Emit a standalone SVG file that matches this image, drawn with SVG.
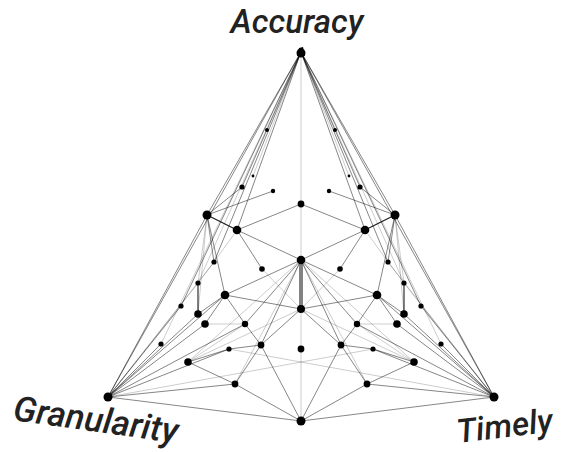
<svg xmlns="http://www.w3.org/2000/svg" xmlns:xlink="http://www.w3.org/1999/xlink" width="576" height="452" viewBox="0 0 576 452">
<style>
.e{stroke:#000;stroke-width:0.6;stroke-opacity:0.8;fill:none}
.f{stroke:#000;stroke-width:0.5;stroke-opacity:0.4;fill:none}
.k{stroke:#000;stroke-width:1.1;stroke-opacity:0.9;fill:none}
.n{fill:#000}
.lbl{font-family:Roboto,"Liberation Sans",sans-serif;font-style:italic;font-weight:500;font-size:33px;fill:#222}
</style>
<rect width="576" height="452" fill="#fff"/>
<g id="connectors">
<g id="left-edges">
<line class="e" x1="301" y1="52" x2="108" y2="397"/>
<line class="e" x1="108" y1="397" x2="301" y2="421"/>
<line class="e" x1="301" y1="52" x2="207" y2="215"/>
<line class="e" x1="301" y1="52" x2="214" y2="262"/>
<line class="f" x1="301" y1="52" x2="253" y2="176"/>
<line class="e" x1="301" y1="52" x2="242" y2="187"/>
<line class="e" x1="301" y1="52" x2="181" y2="306"/>
<line class="f" x1="301" y1="52" x2="161" y2="344"/>
<line class="e" x1="301" y1="52" x2="237" y2="230"/>
<line class="f" x1="301" y1="52" x2="198" y2="283"/>
<line class="e" x1="108" y1="397" x2="207" y2="215"/>
<line class="e" x1="108" y1="397" x2="161" y2="344"/>
<line class="e" x1="108" y1="397" x2="181" y2="306"/>
<line class="e" x1="108" y1="397" x2="198" y2="314"/>
<line class="e" x1="108" y1="397" x2="205" y2="324"/>
<line class="e" x1="108" y1="397" x2="225" y2="295"/>
<line class="e" x1="108" y1="397" x2="229" y2="349"/>
<line class="e" x1="108" y1="397" x2="235" y2="384"/>
<line class="f" x1="108" y1="397" x2="198" y2="283"/>
<line class="f" x1="108" y1="397" x2="214" y2="262"/>
<line class="f" x1="108" y1="397" x2="373" y2="349"/>
<line class="e" x1="108" y1="397" x2="245" y2="324"/>
<line class="k" x1="207" y1="215" x2="237" y2="230"/>
<line class="e" x1="207" y1="215" x2="242" y2="187"/>
<line class="e" x1="207" y1="215" x2="273" y2="191"/>
<line class="e" x1="207" y1="215" x2="214" y2="262"/>
<line class="e" x1="207" y1="215" x2="225" y2="295"/>
<line class="f" x1="207" y1="215" x2="198" y2="283"/>
<line class="f" x1="207" y1="215" x2="198" y2="314"/>
<line class="e" x1="237" y1="230" x2="301" y2="204"/>
<line class="e" x1="237" y1="230" x2="301" y2="260"/>
<line class="e" x1="237" y1="230" x2="262" y2="269"/>
<line class="f" x1="237" y1="230" x2="214" y2="262"/>
<line class="e" x1="301" y1="260" x2="225" y2="295"/>
<line class="e" x1="301" y1="260" x2="245" y2="324"/>
<line class="e" x1="301" y1="260" x2="261" y2="345"/>
<line class="f" x1="301" y1="260" x2="235" y2="384"/>
<line class="e" x1="225" y1="295" x2="301" y2="309"/>
<line class="e" x1="225" y1="295" x2="245" y2="324"/>
<line class="e" x1="225" y1="295" x2="198" y2="314"/>
<line class="e" x1="225" y1="295" x2="205" y2="324"/>
<line class="k" x1="198" y1="283" x2="198" y2="314"/>
<line class="f" x1="198" y1="283" x2="214" y2="262"/>
<line class="e" x1="245" y1="324" x2="261" y2="345"/>
<line class="e" x1="261" y1="345" x2="301" y2="309"/>
<line class="e" x1="261" y1="345" x2="229" y2="349"/>
<line class="e" x1="261" y1="345" x2="301" y2="421"/>
<line class="e" x1="261" y1="345" x2="235" y2="384"/>
<line class="e" x1="229" y1="349" x2="188" y2="362"/>
<line class="e" x1="188" y1="362" x2="235" y2="384"/>
<line class="e" x1="235" y1="384" x2="301" y2="421"/>
<line class="f" x1="262" y1="269" x2="301" y2="309"/>
<line class="f" x1="188" y1="362" x2="245" y2="324"/>
<line class="f" x1="205" y1="324" x2="245" y2="324"/>
<line class="f" x1="301" y1="309" x2="188" y2="362"/>
<line class="f" x1="301" y1="260" x2="414" y2="362"/>
</g>
<use xlink:href="#left-edges" transform="translate(602,0) scale(-1,1)"/>
<line class="f" x1="301" y1="52" x2="301" y2="204"/>
<line class="f" x1="301" y1="204" x2="301" y2="260"/>
<line class="k" x1="300" y1="260" x2="300" y2="309"/>
<line class="k" x1="302" y1="260" x2="302" y2="309"/>
<line class="f" x1="301" y1="309" x2="301" y2="349"/>
<line class="f" x1="301" y1="349" x2="301" y2="421"/>
</g>
<g id="node-accuracy"><circle class="n" cx="301" cy="53" r="4.5"/><path class="n" d="M297 56 L299 48 L303 47 L305 56 Z"/></g>
<g id="node-granularity"><circle class="n" cx="108" cy="397" r="4.5"/></g>
<g id="node-timely"><circle class="n" cx="494" cy="397" r="4.5"/></g>
<g id="node-bottom"><circle class="n" cx="301" cy="421" r="4.5"/></g>
<g id="node-L"><circle class="n" cx="207" cy="215" r="4.5"/></g>
<g id="node-R"><circle class="n" cx="395" cy="215" r="4.5"/></g>
<g id="node-a1"><circle class="n" cx="267" cy="130" r="2"/></g>
<g id="node-a2"><circle class="n" cx="335" cy="130" r="2"/></g>
<g id="node-a3"><circle class="n" cx="253" cy="176" r="1.4"/></g>
<g id="node-a4"><circle class="n" cx="349" cy="176" r="1.4"/></g>
<g id="node-a5"><circle class="n" cx="242" cy="187" r="2.6"/></g>
<g id="node-a6"><circle class="n" cx="360" cy="187" r="2.6"/></g>
<g id="node-a7"><circle class="n" cx="273" cy="191" r="2.2"/></g>
<g id="node-a8"><circle class="n" cx="329" cy="191" r="2.2"/></g>
<g id="node-N0"><circle class="n" cx="301" cy="204" r="3.4"/></g>
<g id="node-L2"><circle class="n" cx="237" cy="230" r="4.3"/></g>
<g id="node-R2"><circle class="n" cx="365" cy="230" r="4.3"/></g>
<g id="node-s1"><circle class="n" cx="214" cy="262" r="2.6"/></g>
<g id="node-s1r"><circle class="n" cx="388" cy="262" r="2.6"/></g>
<g id="node-s2"><circle class="n" cx="262" cy="269" r="2.8"/></g>
<g id="node-s2r"><circle class="n" cx="340" cy="269" r="2.8"/></g>
<g id="node-C"><circle class="n" cx="301" cy="260" r="4.3"/></g>
<g id="node-s3"><circle class="n" cx="198" cy="283" r="2.6"/></g>
<g id="node-s3r"><circle class="n" cx="404" cy="283" r="2.6"/></g>
<g id="node-m1"><circle class="n" cx="225" cy="295" r="4.3"/></g>
<g id="node-m1r"><circle class="n" cx="377" cy="295" r="4.3"/></g>
<g id="node-s4"><circle class="n" cx="181" cy="306" r="2.6"/></g>
<g id="node-s4r"><circle class="n" cx="421" cy="306" r="2.6"/></g>
<g id="node-m2"><circle class="n" cx="198" cy="314" r="3.8"/></g>
<g id="node-m2r"><circle class="n" cx="404" cy="314" r="3.8"/></g>
<g id="node-m3"><circle class="n" cx="205" cy="324" r="3.8"/></g>
<g id="node-m3r"><circle class="n" cx="397" cy="324" r="3.8"/></g>
<g id="node-m4"><circle class="n" cx="245" cy="324" r="3.2"/></g>
<g id="node-m4r"><circle class="n" cx="357" cy="324" r="3.2"/></g>
<g id="node-M"><circle class="n" cx="301" cy="309" r="4"/></g>
<g id="node-s5"><circle class="n" cx="161" cy="344" r="2.6"/></g>
<g id="node-s5r"><circle class="n" cx="441" cy="344" r="2.6"/></g>
<g id="node-s6"><circle class="n" cx="229" cy="349" r="2.6"/></g>
<g id="node-s6r"><circle class="n" cx="373" cy="349" r="2.6"/></g>
<g id="node-m5"><circle class="n" cx="261" cy="345" r="3.4"/></g>
<g id="node-m5r"><circle class="n" cx="341" cy="345" r="3.4"/></g>
<g id="node-M2"><circle class="n" cx="301" cy="349" r="3.4"/></g>
<g id="node-m6"><circle class="n" cx="188" cy="362" r="3.8"/></g>
<g id="node-m6r"><circle class="n" cx="414" cy="362" r="3.8"/></g>
<g id="node-m7"><circle class="n" cx="235" cy="384" r="3.4"/></g>
<g id="node-m7r"><circle class="n" cx="367" cy="384" r="3.4"/></g>
<g id="labels">
<text class="lbl" x="297" y="33" text-anchor="middle">Accuracy</text>
<text class="lbl" x="12" y="420" transform="rotate(8 12 420)" style="font-size:35px">Granularity</text>
<text class="lbl" x="458" y="443" transform="rotate(-7 458 443)">Timely</text>
</g>
</svg>
